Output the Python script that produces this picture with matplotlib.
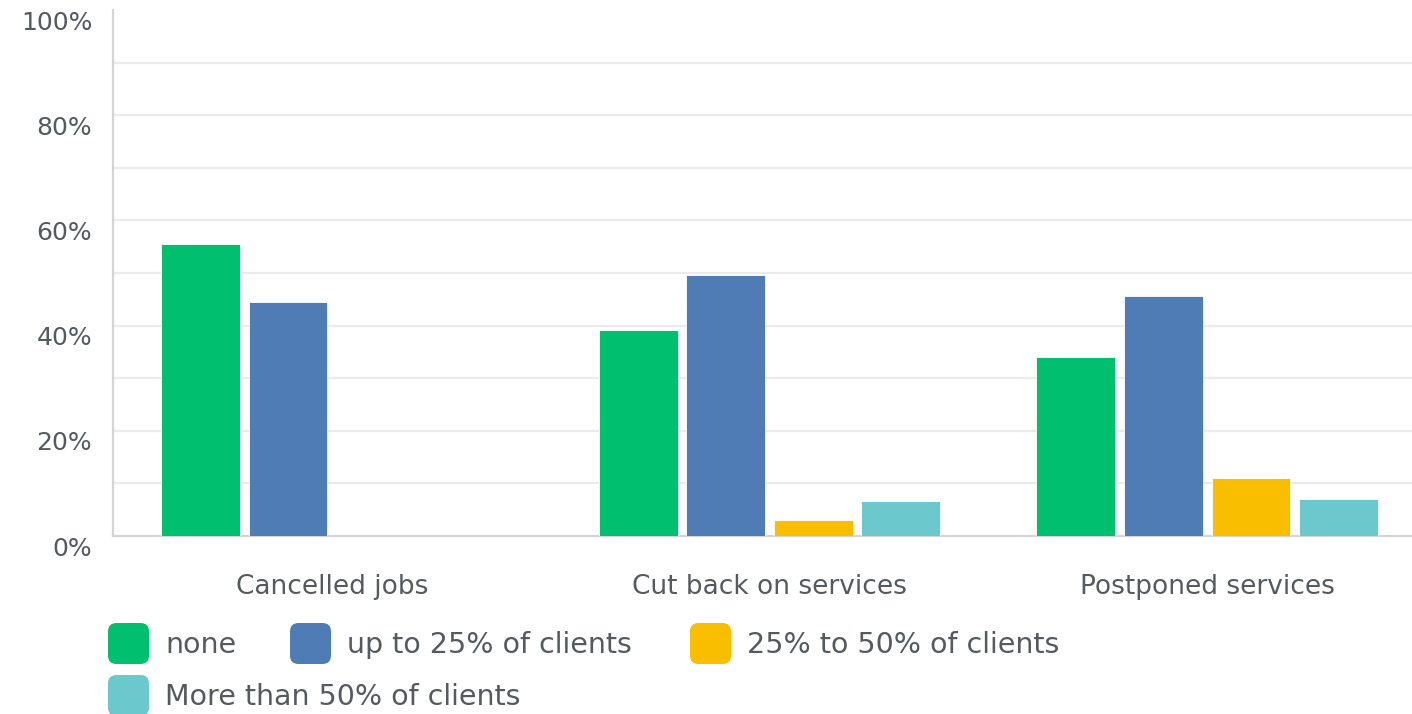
import matplotlib.pyplot as plt
import numpy as np
from matplotlib.patches import FancyBboxPatch
from matplotlib.transforms import ScaledTranslation

categories = ["Cancelled jobs", "Cut back on services", "Postponed services"]
series = ["none", "up to 25% of clients", "25% to 50% of clients", "More than 50% of clients"]
none_vals = [55.6, 39.1, 34.1]
upto25_vals = [44.4, 49.7, 45.7]
mid_vals = [0.0, 3.1, 11.1]
over50_vals = [0.0, 6.6, 7.1]
colors = ["#00BF6F", "#507CB6", "#F9BE00", "#6BC8CD"]

yticks = [0, 20, 40, 60, 80, 100]
ytick_labels = ["0%", "20%", "40%", "60%", "80%", "100%"]

plt.rcParams["font.family"] = ["DejaVu Sans"]
TEXT = "#555a5f"

W, H = 1412, 714
fig = plt.figure(figsize=(W / 100, H / 100), dpi=100)
ax = fig.add_axes([113 / W, 1 - 536 / H, 1 - 113 / W, 526 / H])

x = np.arange(len(categories))
step, width = 0.2, 0.18
all_vals = [none_vals, upto25_vals, mid_vals, over50_vals]
for i, (vals, c) in enumerate(zip(all_vals, colors)):
    ax.bar(x + (i - 1.5) * step, vals, width, color=c, zorder=3,
           edgecolor="white", linewidth=0.6)

for g in range(10, 100, 10):
    ax.axhline(g, color="#ebebeb", linewidth=1.6, zorder=1)

ax.set_xlim(-0.5, 2.468)
ax.set_ylim(0, 100)
ax.set_yticks(yticks)
ax.set_yticklabels(ytick_labels, fontsize=18, color=TEXT)
ax.set_xticks(x)
ax.set_xticklabels(categories, fontsize=19, color=TEXT)
ax.tick_params(axis="both", length=0)
ax.tick_params(axis="y", pad=15)
ax.tick_params(axis="x", pad=27)
shift = ScaledTranslation(0, -10 / 100, fig.dpi_scale_trans)
for lbl in ax.get_yticklabels():
    lbl.set_transform(lbl.get_transform() + shift)

for s in ["top", "right"]:
    ax.spines[s].set_visible(False)
for s in ["left", "bottom"]:
    ax.spines[s].set_color("#d4d4d4")
    ax.spines[s].set_linewidth(1.6)

# legend, laid out as in the original (3 entries, then 1 on the next row)
legend_pos = [(108, 623), (290, 623), (690, 623), (108, 675)]
for name, c, (px, py) in zip(series, colors, legend_pos):
    box = FancyBboxPatch((px / W, 1 - (py + 41) / H), 41 / W, 41 / H,
                         boxstyle="round,pad=0,rounding_size=0.006",
                         transform=fig.transFigure, facecolor=c,
                         edgecolor="none", mutation_aspect=W / H)
    fig.patches.append(box)
    fig.text((px + 57) / W, 1 - (py + 22) / H, name, fontsize=20.5,
             color=TEXT, va="center", ha="left")

fig.savefig("out.png", dpi=100)
